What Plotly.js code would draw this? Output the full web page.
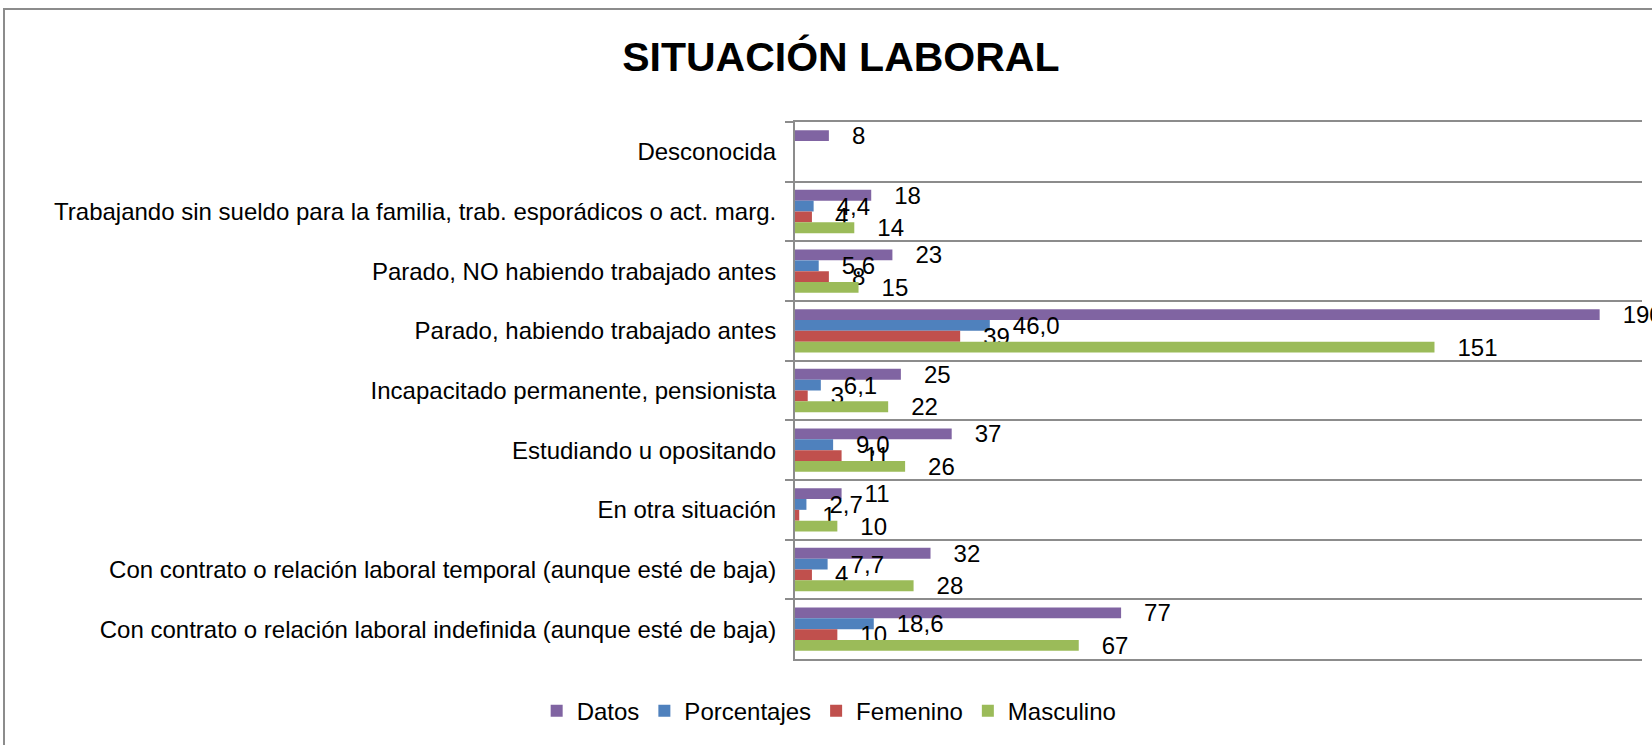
<!DOCTYPE html>
<html>
<head>
<meta charset="utf-8">
<script src="https://cdn.plot.ly/plotly-3.0.1.min.js"></script>
<style>
  body { margin: 0; background: #fff; }
  #frame { position: absolute; left: 3px; top: 8px; width: 1700px; height: 800px;
           border-top: 2px solid #8c8c8c; border-left: 2px solid #8c8c8c; pointer-events: none; }
  #chart { position: absolute; left: 0; top: 0; width: 1652px; height: 745px; }
</style>
</head>
<body>
<div id="frame"></div>
<div id="chart"></div>
<script>
// categories, top to bottom
const categories = [
  'Desconocida',
  'Trabajando sin sueldo para la familia, trab. esporádicos o act. marg.',
  'Parado, NO habiendo trabajado antes',
  'Parado, habiendo trabajado antes',
  'Incapacitado permanente, pensionista',
  'Estudiando u opositando',
  'En otra situación',
  'Con contrato o relación laboral temporal (aunque esté de baja)',
  'Con contrato o relación laboral indefinida (aunque esté de baja)'
];

const datos       = [8, 18, 23, 190, 25, 37, 11, 32, 77];
const porcentajes = [null, 4.4, 5.6, 46.0, 6.1, 9.0, 2.7, 7.7, 18.6];
const femenino    = [null, 4, 8, 39, 3, 11, 1, 4, 10];
const masculino   = [null, 14, 15, 151, 22, 26, 10, 28, 67];

const seriesNames  = ['Datos', 'Porcentajes', 'Femenino', 'Masculino'];
const seriesColors = ['#8064A2', '#4F81BD', '#C0504D', '#9BBB59'];
const seriesValues = [datos, porcentajes, femenino, masculino];
const seriesDecimals = [0, 1, 0, 0];

// labels sit a bit away from the bar end, decimal comma like the original
function labelFor(v, dec) {
  if (v === null) return '';
  return '\u00a0\u00a0\u00a0' + v.toFixed(dec).replace('.', ',');
}

const fontFamily = '"Liberation Sans Narrow", "Liberation Sans", sans-serif';
const labelFont = { family: fontFamily, size: 24, color: '#000' };
const gray = '#8c8c8c';

const traces = seriesNames.map((name, i) => ({
  type: 'bar',
  orientation: 'h',
  name: name,
  y: categories,
  x: seriesValues[i],
  text: seriesValues[i].map(v => labelFor(v, seriesDecimals[i])),
  textposition: 'outside',
  textfont: labelFont,
  constraintext: 'none',
  cliponaxis: false,
  marker: { color: seriesColors[i], line: { width: 0 } },
  hoverinfo: 'none'
}));

const layout = {
  width: 1652,
  height: 745,
  margin: { l: 795, r: 10, t: 122, b: 86, autoexpand: false },
  paper_bgcolor: 'rgba(0,0,0,0)',
  plot_bgcolor: 'rgba(0,0,0,0)',
  font: labelFont,
  barmode: 'group',
  bargap: 0.275,
  bargroupgap: 0,
  title: {
    text: '<b>SITUACIÓN LABORAL</b>',
    font: { family: fontFamily, size: 41, color: '#000' },
    x: 0.509, xanchor: 'center',
    y: 0.924, yanchor: 'middle'
  },
  xaxis: {
    range: [0, 200],
    showgrid: false,
    zeroline: false,
    showticklabels: false,
    ticks: '',
    showline: true,
    mirror: true,
    linecolor: gray,
    linewidth: 2
  },
  yaxis: {
    type: 'category',
    autorange: 'reversed',
    tickson: 'boundaries',
    ticks: 'outside',
    ticklen: 8,
    tickcolor: gray,
    tickwidth: 2,
    showgrid: true,
    gridcolor: gray,
    gridwidth: 2,
    showline: true,
    linecolor: gray,
    linewidth: 2,
    ticklabelstandoff: 12,
    tickfont: labelFont
  },
  showlegend: true,
  legend: {
    orientation: 'h',
    x: -0.305, xanchor: 'left',
    y: -0.097, yanchor: 'middle',
    font: labelFont,
    traceorder: 'normal'
  }
};

Plotly.newPlot('chart', traces, layout, { displayModeBar: false, staticPlot: true });
</script>
</body>
</html>
